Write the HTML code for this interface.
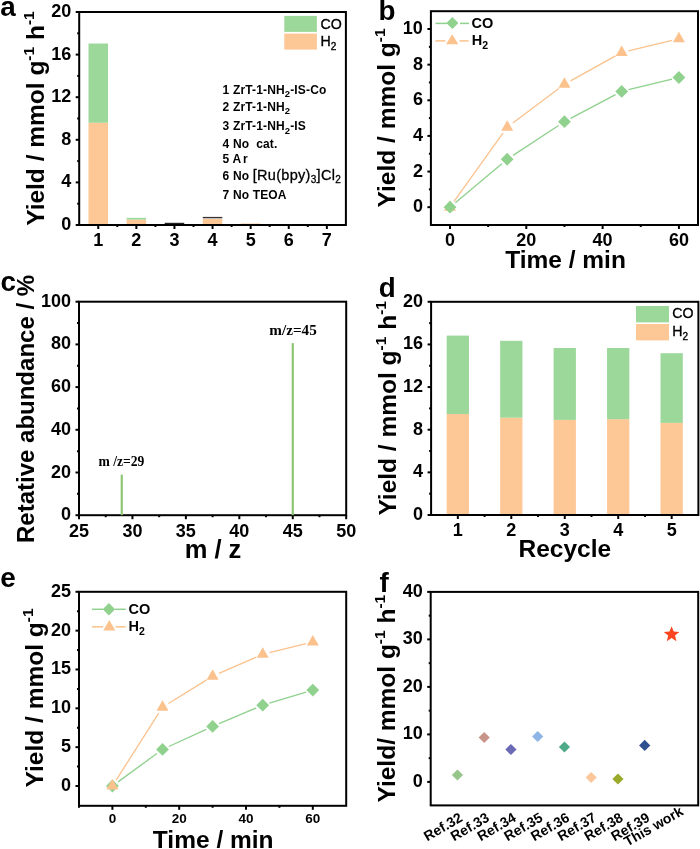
<!DOCTYPE html>
<html><head><meta charset="utf-8"><style>
html,body{margin:0;padding:0;background:#fff;}
svg{display:block;will-change:transform;}
</style></head><body>
<svg width="700" height="849" viewBox="0 0 700 849">
<rect width="700" height="849" fill="#fff"/>
<rect x="88.50" y="122.76" width="19.50" height="102.24" fill="#fdc796"/>
<rect x="88.50" y="43.52" width="19.50" height="79.24" fill="#9dd89b"/>
<rect x="126.60" y="219.57" width="19.50" height="5.43" fill="#fdc796"/>
<rect x="126.60" y="217.86" width="19.50" height="1.70" fill="#9dd89b"/>
<rect x="202.80" y="219.04" width="19.50" height="5.96" fill="#fdc796"/>
<rect x="240.90" y="223.51" width="19.50" height="1.49" fill="#fdc796"/>
<rect x="164.70" y="222.80" width="19.50" height="1.40" fill="#222"/>
<rect x="202.80" y="216.90" width="19.50" height="1.40" fill="#3a3030"/>
<rect x="79.20" y="12.00" width="266.70" height="213.00" fill="none" stroke="#000" stroke-width="2"/>
<line x1="75.70" y1="225.00" x2="79.20" y2="225.00" stroke="#000" stroke-width="2" />
<text x="71.20" y="230.00" font-family="'Liberation Sans',sans-serif" font-size="18" font-weight="bold" text-anchor="end" >0</text>
<line x1="75.70" y1="182.40" x2="79.20" y2="182.40" stroke="#000" stroke-width="2" />
<text x="71.20" y="187.40" font-family="'Liberation Sans',sans-serif" font-size="18" font-weight="bold" text-anchor="end" >4</text>
<line x1="75.70" y1="139.80" x2="79.20" y2="139.80" stroke="#000" stroke-width="2" />
<text x="71.20" y="144.80" font-family="'Liberation Sans',sans-serif" font-size="18" font-weight="bold" text-anchor="end" >8</text>
<line x1="75.70" y1="97.20" x2="79.20" y2="97.20" stroke="#000" stroke-width="2" />
<text x="71.20" y="102.20" font-family="'Liberation Sans',sans-serif" font-size="18" font-weight="bold" text-anchor="end" >12</text>
<line x1="75.70" y1="54.60" x2="79.20" y2="54.60" stroke="#000" stroke-width="2" />
<text x="71.20" y="59.60" font-family="'Liberation Sans',sans-serif" font-size="18" font-weight="bold" text-anchor="end" >16</text>
<line x1="75.70" y1="12.00" x2="79.20" y2="12.00" stroke="#000" stroke-width="2" />
<text x="71.20" y="17.00" font-family="'Liberation Sans',sans-serif" font-size="18" font-weight="bold" text-anchor="end" >20</text>
<line x1="77.20" y1="203.70" x2="79.20" y2="203.70" stroke="#000" stroke-width="2" />
<line x1="77.20" y1="161.10" x2="79.20" y2="161.10" stroke="#000" stroke-width="2" />
<line x1="77.20" y1="118.50" x2="79.20" y2="118.50" stroke="#000" stroke-width="2" />
<line x1="77.20" y1="75.90" x2="79.20" y2="75.90" stroke="#000" stroke-width="2" />
<line x1="77.20" y1="33.30" x2="79.20" y2="33.30" stroke="#000" stroke-width="2" />
<line x1="98.25" y1="225.00" x2="98.25" y2="229.00" stroke="#000" stroke-width="2" />
<text x="98.25" y="245.80" font-family="'Liberation Sans',sans-serif" font-size="18" font-weight="bold" text-anchor="middle" >1</text>
<line x1="136.35" y1="225.00" x2="136.35" y2="229.00" stroke="#000" stroke-width="2" />
<text x="136.35" y="245.80" font-family="'Liberation Sans',sans-serif" font-size="18" font-weight="bold" text-anchor="middle" >2</text>
<line x1="174.45" y1="225.00" x2="174.45" y2="229.00" stroke="#000" stroke-width="2" />
<text x="174.45" y="245.80" font-family="'Liberation Sans',sans-serif" font-size="18" font-weight="bold" text-anchor="middle" >3</text>
<line x1="212.55" y1="225.00" x2="212.55" y2="229.00" stroke="#000" stroke-width="2" />
<text x="212.55" y="245.80" font-family="'Liberation Sans',sans-serif" font-size="18" font-weight="bold" text-anchor="middle" >4</text>
<line x1="250.65" y1="225.00" x2="250.65" y2="229.00" stroke="#000" stroke-width="2" />
<text x="250.65" y="245.80" font-family="'Liberation Sans',sans-serif" font-size="18" font-weight="bold" text-anchor="middle" >5</text>
<line x1="288.75" y1="225.00" x2="288.75" y2="229.00" stroke="#000" stroke-width="2" />
<text x="288.75" y="245.80" font-family="'Liberation Sans',sans-serif" font-size="18" font-weight="bold" text-anchor="middle" >6</text>
<line x1="326.85" y1="225.00" x2="326.85" y2="229.00" stroke="#000" stroke-width="2" />
<text x="326.85" y="245.80" font-family="'Liberation Sans',sans-serif" font-size="18" font-weight="bold" text-anchor="middle" >7</text>
<line x1="117.30" y1="225.00" x2="117.30" y2="227.00" stroke="#000" stroke-width="2" />
<line x1="155.40" y1="225.00" x2="155.40" y2="227.00" stroke="#000" stroke-width="2" />
<line x1="193.50" y1="225.00" x2="193.50" y2="227.00" stroke="#000" stroke-width="2" />
<line x1="231.60" y1="225.00" x2="231.60" y2="227.00" stroke="#000" stroke-width="2" />
<line x1="269.70" y1="225.00" x2="269.70" y2="227.00" stroke="#000" stroke-width="2" />
<line x1="307.80" y1="225.00" x2="307.80" y2="227.00" stroke="#000" stroke-width="2" />
<rect x="284.30" y="15.90" width="32.60" height="16.00" fill="#9dd89b"/>
<rect x="284.30" y="33.60" width="32.60" height="16.00" fill="#fdc796"/>
<text x="320.60" y="28.90" font-family="'Liberation Sans',sans-serif" font-size="14.2" font-weight="normal" text-anchor="start" stroke="#000" stroke-width="0.35">CO</text>
<text x="320.6" y="46" font-family="'Liberation Sans',sans-serif" font-size="14.2" stroke="#000" stroke-width="0.35">H<tspan font-size="10" dy="3.5">2</tspan></text>
<text x="222.6" y="93.9" font-family="'Liberation Sans',sans-serif" font-size="12" font-weight="bold" letter-spacing="0.15" xml:space="preserve">1 ZrT-1-NH<tspan font-size="9.5" dy="3.5">2</tspan><tspan dy='-3.5'>-IS-Co</tspan></text>
<text x="222.6" y="110.9" font-family="'Liberation Sans',sans-serif" font-size="12" font-weight="bold" letter-spacing="0.15" xml:space="preserve">2 ZrT-1-NH<tspan font-size="9.5" dy="3.5">2</tspan></text>
<text x="222.6" y="130.2" font-family="'Liberation Sans',sans-serif" font-size="12" font-weight="bold" letter-spacing="0.15" xml:space="preserve">3 ZrT-1-NH<tspan font-size="9.5" dy="3.5">2</tspan><tspan dy='-3.5'>-IS</tspan></text>
<text x="222.6" y="148.1" font-family="'Liberation Sans',sans-serif" font-size="12" font-weight="bold" letter-spacing="0.15" xml:space="preserve">4 No  cat.</text>
<text x="222.6" y="162.7" font-family="'Liberation Sans',sans-serif" font-size="12" font-weight="bold" letter-spacing="0.15" xml:space="preserve">5 A<tspan dx='1.6'>r</tspan></text>
<text x="222.6" y="179.7" font-family="'Liberation Sans',sans-serif" font-size="12" font-weight="bold" letter-spacing="0.15" xml:space="preserve">6 No <tspan font-weight='normal' font-size='14.5' letter-spacing='0.3' stroke='#000' stroke-width='0.3'>[Ru(bpy)<tspan font-size='10' dy='3.5'>3</tspan><tspan dy='-3.5'>]Cl</tspan><tspan font-size='10' dy='3.5'>2</tspan></tspan></text>
<text x="222.6" y="199.3" font-family="'Liberation Sans',sans-serif" font-size="12" font-weight="bold" letter-spacing="0.15" xml:space="preserve">7 No TEOA</text>
<text transform="translate(43.80,225.80) rotate(-90)" font-family="'Liberation Sans',sans-serif" font-size="24.5" font-weight="bold" text-anchor="start"><tspan dy="0">Yield / mmol g</tspan><tspan font-size="15.5" dy="-10">-1</tspan><tspan dy="10"> h</tspan><tspan font-size="15.5" dy="-10">-1</tspan></text>
<text x="0.30" y="15.80" font-family="'Liberation Sans',sans-serif" font-size="27.8" font-weight="bold" text-anchor="start" >a</text>
<rect x="430.90" y="11.20" width="267.10" height="213.80" fill="none" stroke="#000" stroke-width="2"/>
<line x1="427.40" y1="207.18" x2="430.90" y2="207.18" stroke="#000" stroke-width="2" />
<text x="422.90" y="212.18" font-family="'Liberation Sans',sans-serif" font-size="18" font-weight="bold" text-anchor="end" >0</text>
<line x1="427.40" y1="171.55" x2="430.90" y2="171.55" stroke="#000" stroke-width="2" />
<text x="422.90" y="176.55" font-family="'Liberation Sans',sans-serif" font-size="18" font-weight="bold" text-anchor="end" >2</text>
<line x1="427.40" y1="135.92" x2="430.90" y2="135.92" stroke="#000" stroke-width="2" />
<text x="422.90" y="140.92" font-family="'Liberation Sans',sans-serif" font-size="18" font-weight="bold" text-anchor="end" >4</text>
<line x1="427.40" y1="100.28" x2="430.90" y2="100.28" stroke="#000" stroke-width="2" />
<text x="422.90" y="105.28" font-family="'Liberation Sans',sans-serif" font-size="18" font-weight="bold" text-anchor="end" >6</text>
<line x1="427.40" y1="64.65" x2="430.90" y2="64.65" stroke="#000" stroke-width="2" />
<text x="422.90" y="69.65" font-family="'Liberation Sans',sans-serif" font-size="18" font-weight="bold" text-anchor="end" >8</text>
<line x1="427.40" y1="29.02" x2="430.90" y2="29.02" stroke="#000" stroke-width="2" />
<text x="422.90" y="34.02" font-family="'Liberation Sans',sans-serif" font-size="18" font-weight="bold" text-anchor="end" >10</text>
<line x1="428.90" y1="189.37" x2="430.90" y2="189.37" stroke="#000" stroke-width="2" />
<line x1="428.90" y1="153.73" x2="430.90" y2="153.73" stroke="#000" stroke-width="2" />
<line x1="428.90" y1="118.10" x2="430.90" y2="118.10" stroke="#000" stroke-width="2" />
<line x1="428.90" y1="82.47" x2="430.90" y2="82.47" stroke="#000" stroke-width="2" />
<line x1="428.90" y1="46.83" x2="430.90" y2="46.83" stroke="#000" stroke-width="2" />
<line x1="449.98" y1="225.00" x2="449.98" y2="229.00" stroke="#000" stroke-width="2" />
<text x="449.98" y="245.80" font-family="'Liberation Sans',sans-serif" font-size="18" font-weight="bold" text-anchor="middle" >0</text>
<line x1="526.29" y1="225.00" x2="526.29" y2="229.00" stroke="#000" stroke-width="2" />
<text x="526.29" y="245.80" font-family="'Liberation Sans',sans-serif" font-size="18" font-weight="bold" text-anchor="middle" >20</text>
<line x1="602.61" y1="225.00" x2="602.61" y2="229.00" stroke="#000" stroke-width="2" />
<text x="602.61" y="245.80" font-family="'Liberation Sans',sans-serif" font-size="18" font-weight="bold" text-anchor="middle" >40</text>
<line x1="678.92" y1="225.00" x2="678.92" y2="229.00" stroke="#000" stroke-width="2" />
<text x="678.92" y="245.80" font-family="'Liberation Sans',sans-serif" font-size="18" font-weight="bold" text-anchor="middle" >60</text>
<line x1="488.14" y1="225.00" x2="488.14" y2="227.00" stroke="#000" stroke-width="2" />
<line x1="564.45" y1="225.00" x2="564.45" y2="227.00" stroke="#000" stroke-width="2" />
<line x1="640.76" y1="225.00" x2="640.76" y2="227.00" stroke="#000" stroke-width="2" />
<line x1="454.05" y1="201.49" x2="503.14" y2="132.88" stroke="#fbc28d" stroke-width="1.3" />
<line x1="512.81" y1="122.99" x2="558.85" y2="88.45" stroke="#fbc28d" stroke-width="1.3" />
<line x1="570.57" y1="80.86" x2="615.56" y2="55.93" stroke="#fbc28d" stroke-width="1.3" />
<line x1="628.49" y1="50.88" x2="672.12" y2="40.29" stroke="#fbc28d" stroke-width="1.3" />
<line x1="455.35" y1="202.69" x2="501.85" y2="163.75" stroke="#8fd18d" stroke-width="1.3" />
<line x1="513.07" y1="155.41" x2="558.60" y2="125.51" stroke="#8fd18d" stroke-width="1.3" />
<line x1="570.64" y1="118.39" x2="615.50" y2="94.65" stroke="#8fd18d" stroke-width="1.3" />
<line x1="628.49" y1="89.72" x2="672.12" y2="79.13" stroke="#8fd18d" stroke-width="1.3" />
<path d="M449.98,200.18 L455.98,210.68 L443.98,210.68 Z" fill="#fbc28d"/>
<path d="M507.21,120.19 L513.21,130.69 L501.21,130.69 Z" fill="#fbc28d"/>
<path d="M564.45,77.25 L570.45,87.75 L558.45,87.75 Z" fill="#fbc28d"/>
<path d="M621.69,45.53 L627.69,56.03 L615.69,56.03 Z" fill="#fbc28d"/>
<path d="M678.92,31.64 L684.92,42.14 L672.92,42.14 Z" fill="#fbc28d"/>
<path d="M449.98,200.78 L456.38,207.18 L449.98,213.58 L443.58,207.18 Z" fill="#8fd18d"/>
<path d="M507.21,152.86 L513.61,159.26 L507.21,165.66 L500.81,159.26 Z" fill="#8fd18d"/>
<path d="M564.45,115.26 L570.85,121.66 L564.45,128.06 L558.05,121.66 Z" fill="#8fd18d"/>
<path d="M621.69,84.97 L628.09,91.38 L621.69,97.78 L615.29,91.38 Z" fill="#8fd18d"/>
<path d="M678.92,71.08 L685.32,77.48 L678.92,83.88 L672.52,77.48 Z" fill="#8fd18d"/>
<line x1="435.50" y1="23.40" x2="447.00" y2="23.40" stroke="#8fd18d" stroke-width="1.5" />
<line x1="460.00" y1="23.40" x2="469.00" y2="23.40" stroke="#8fd18d" stroke-width="1.5" />
<path d="M452.40,17.00 L458.40,23.00 L452.40,29.00 L446.40,23.00 Z" fill="#8fd18d"/>
<line x1="435.50" y1="40.90" x2="445.40" y2="40.90" stroke="#fbc28d" stroke-width="1.5" />
<line x1="459.50" y1="40.90" x2="468.60" y2="40.90" stroke="#fbc28d" stroke-width="1.5" />
<path d="M452.20,34.33 L458.35,44.33 L446.05,44.33 Z" fill="#fbc28d"/>
<text x="471.60" y="28.20" font-family="'Liberation Sans',sans-serif" font-size="14.5" font-weight="bold" text-anchor="start" textLength="21.8" lengthAdjust="spacingAndGlyphs">CO</text>
<text x="471.8" y="44.8" font-family="'Liberation Sans',sans-serif" font-size="14.5" font-weight="bold">H<tspan font-size="10.5" dy="4">2</tspan></text>
<text transform="translate(394.70,207.40) rotate(-90)" font-family="'Liberation Sans',sans-serif" font-size="24.5" font-weight="bold" text-anchor="start"><tspan dy="0">Yield / mmol g</tspan><tspan font-size="15.5" dy="-10">-1</tspan></text>
<text x="565.50" y="267.60" font-family="'Liberation Sans',sans-serif" font-size="24.5" font-weight="bold" text-anchor="middle" >Time / min</text>
<text x="378.60" y="20.40" font-family="'Liberation Sans',sans-serif" font-size="27.8" font-weight="bold" text-anchor="start" >b</text>
<rect x="79.00" y="301.70" width="267.20" height="213.50" fill="none" stroke="#000" stroke-width="2"/>
<line x1="75.50" y1="515.20" x2="79.00" y2="515.20" stroke="#000" stroke-width="2" />
<text x="71.00" y="520.20" font-family="'Liberation Sans',sans-serif" font-size="18" font-weight="bold" text-anchor="end" >0</text>
<line x1="75.50" y1="472.50" x2="79.00" y2="472.50" stroke="#000" stroke-width="2" />
<text x="71.00" y="477.50" font-family="'Liberation Sans',sans-serif" font-size="18" font-weight="bold" text-anchor="end" >20</text>
<line x1="75.50" y1="429.80" x2="79.00" y2="429.80" stroke="#000" stroke-width="2" />
<text x="71.00" y="434.80" font-family="'Liberation Sans',sans-serif" font-size="18" font-weight="bold" text-anchor="end" >40</text>
<line x1="75.50" y1="387.10" x2="79.00" y2="387.10" stroke="#000" stroke-width="2" />
<text x="71.00" y="392.10" font-family="'Liberation Sans',sans-serif" font-size="18" font-weight="bold" text-anchor="end" >60</text>
<line x1="75.50" y1="344.40" x2="79.00" y2="344.40" stroke="#000" stroke-width="2" />
<text x="71.00" y="349.40" font-family="'Liberation Sans',sans-serif" font-size="18" font-weight="bold" text-anchor="end" >80</text>
<line x1="75.50" y1="301.70" x2="79.00" y2="301.70" stroke="#000" stroke-width="2" />
<text x="71.00" y="306.70" font-family="'Liberation Sans',sans-serif" font-size="18" font-weight="bold" text-anchor="end" >100</text>
<line x1="77.00" y1="493.85" x2="79.00" y2="493.85" stroke="#000" stroke-width="2" />
<line x1="77.00" y1="451.15" x2="79.00" y2="451.15" stroke="#000" stroke-width="2" />
<line x1="77.00" y1="408.45" x2="79.00" y2="408.45" stroke="#000" stroke-width="2" />
<line x1="77.00" y1="365.75" x2="79.00" y2="365.75" stroke="#000" stroke-width="2" />
<line x1="77.00" y1="323.05" x2="79.00" y2="323.05" stroke="#000" stroke-width="2" />
<line x1="79.00" y1="515.20" x2="79.00" y2="519.20" stroke="#000" stroke-width="2" />
<text x="79.00" y="536.60" font-family="'Liberation Sans',sans-serif" font-size="18" font-weight="bold" text-anchor="middle" >25</text>
<line x1="132.44" y1="515.20" x2="132.44" y2="519.20" stroke="#000" stroke-width="2" />
<text x="132.44" y="536.60" font-family="'Liberation Sans',sans-serif" font-size="18" font-weight="bold" text-anchor="middle" >30</text>
<line x1="185.88" y1="515.20" x2="185.88" y2="519.20" stroke="#000" stroke-width="2" />
<text x="185.88" y="536.60" font-family="'Liberation Sans',sans-serif" font-size="18" font-weight="bold" text-anchor="middle" >35</text>
<line x1="239.32" y1="515.20" x2="239.32" y2="519.20" stroke="#000" stroke-width="2" />
<text x="239.32" y="536.60" font-family="'Liberation Sans',sans-serif" font-size="18" font-weight="bold" text-anchor="middle" >40</text>
<line x1="292.76" y1="515.20" x2="292.76" y2="519.20" stroke="#000" stroke-width="2" />
<text x="292.76" y="536.60" font-family="'Liberation Sans',sans-serif" font-size="18" font-weight="bold" text-anchor="middle" >45</text>
<line x1="346.20" y1="515.20" x2="346.20" y2="519.20" stroke="#000" stroke-width="2" />
<text x="346.20" y="536.60" font-family="'Liberation Sans',sans-serif" font-size="18" font-weight="bold" text-anchor="middle" >50</text>
<line x1="105.72" y1="515.20" x2="105.72" y2="517.20" stroke="#000" stroke-width="2" />
<line x1="159.16" y1="515.20" x2="159.16" y2="517.20" stroke="#000" stroke-width="2" />
<line x1="212.60" y1="515.20" x2="212.60" y2="517.20" stroke="#000" stroke-width="2" />
<line x1="266.04" y1="515.20" x2="266.04" y2="517.20" stroke="#000" stroke-width="2" />
<line x1="319.48" y1="515.20" x2="319.48" y2="517.20" stroke="#000" stroke-width="2" />
<line x1="121.75" y1="515.20" x2="121.75" y2="474.64" stroke="#8dc572" stroke-width="2.2" />
<line x1="292.76" y1="515.20" x2="292.76" y2="343.12" stroke="#8dc572" stroke-width="2.2" />
<text x="121.40" y="466.30" font-family="'Liberation Serif',serif" font-size="13.6" font-weight="bold" text-anchor="middle" >m /z=29</text>
<text x="293.00" y="334.60" font-family="'Liberation Serif',serif" font-size="15.2" font-weight="bold" text-anchor="middle" >m/z=45</text>
<text transform="translate(33.60,543.00) rotate(-90)" font-family="'Liberation Sans',sans-serif" font-size="24" font-weight="bold" text-anchor="start"><tspan dy="0">Retative abundance / %</tspan></text>
<text x="213.00" y="558.20" font-family="'Liberation Sans',sans-serif" font-size="25.5" font-weight="bold" text-anchor="middle" >m / z</text>
<text x="0.40" y="291.40" font-family="'Liberation Sans',sans-serif" font-size="27.8" font-weight="bold" text-anchor="start" >c</text>
<rect x="446.68" y="414.05" width="22.30" height="100.95" fill="#fdc796"/>
<rect x="446.68" y="335.59" width="22.30" height="78.46" fill="#9dd89b"/>
<rect x="500.14" y="417.67" width="22.30" height="97.33" fill="#fdc796"/>
<rect x="500.14" y="340.82" width="22.30" height="76.86" fill="#9dd89b"/>
<rect x="553.60" y="419.91" width="22.30" height="95.09" fill="#fdc796"/>
<rect x="553.60" y="347.96" width="22.30" height="71.95" fill="#9dd89b"/>
<rect x="607.06" y="419.17" width="22.30" height="95.83" fill="#fdc796"/>
<rect x="607.06" y="347.96" width="22.30" height="71.21" fill="#9dd89b"/>
<rect x="660.52" y="422.90" width="22.30" height="92.10" fill="#fdc796"/>
<rect x="660.52" y="353.18" width="22.30" height="69.72" fill="#9dd89b"/>
<rect x="431.10" y="301.80" width="267.30" height="213.20" fill="none" stroke="#000" stroke-width="2"/>
<line x1="427.60" y1="515.00" x2="431.10" y2="515.00" stroke="#000" stroke-width="2" />
<text x="423.10" y="520.00" font-family="'Liberation Sans',sans-serif" font-size="18" font-weight="bold" text-anchor="end" >0</text>
<line x1="427.60" y1="472.36" x2="431.10" y2="472.36" stroke="#000" stroke-width="2" />
<text x="423.10" y="477.36" font-family="'Liberation Sans',sans-serif" font-size="18" font-weight="bold" text-anchor="end" >4</text>
<line x1="427.60" y1="429.72" x2="431.10" y2="429.72" stroke="#000" stroke-width="2" />
<text x="423.10" y="434.72" font-family="'Liberation Sans',sans-serif" font-size="18" font-weight="bold" text-anchor="end" >8</text>
<line x1="427.60" y1="387.08" x2="431.10" y2="387.08" stroke="#000" stroke-width="2" />
<text x="423.10" y="392.08" font-family="'Liberation Sans',sans-serif" font-size="18" font-weight="bold" text-anchor="end" >12</text>
<line x1="427.60" y1="344.44" x2="431.10" y2="344.44" stroke="#000" stroke-width="2" />
<text x="423.10" y="349.44" font-family="'Liberation Sans',sans-serif" font-size="18" font-weight="bold" text-anchor="end" >16</text>
<line x1="427.60" y1="301.80" x2="431.10" y2="301.80" stroke="#000" stroke-width="2" />
<text x="423.10" y="306.80" font-family="'Liberation Sans',sans-serif" font-size="18" font-weight="bold" text-anchor="end" >20</text>
<line x1="429.10" y1="493.68" x2="431.10" y2="493.68" stroke="#000" stroke-width="2" />
<line x1="429.10" y1="451.04" x2="431.10" y2="451.04" stroke="#000" stroke-width="2" />
<line x1="429.10" y1="408.40" x2="431.10" y2="408.40" stroke="#000" stroke-width="2" />
<line x1="429.10" y1="365.76" x2="431.10" y2="365.76" stroke="#000" stroke-width="2" />
<line x1="429.10" y1="323.12" x2="431.10" y2="323.12" stroke="#000" stroke-width="2" />
<line x1="457.83" y1="515.00" x2="457.83" y2="519.00" stroke="#000" stroke-width="2" />
<text x="457.83" y="536.40" font-family="'Liberation Sans',sans-serif" font-size="18" font-weight="bold" text-anchor="middle" >1</text>
<line x1="511.29" y1="515.00" x2="511.29" y2="519.00" stroke="#000" stroke-width="2" />
<text x="511.29" y="536.40" font-family="'Liberation Sans',sans-serif" font-size="18" font-weight="bold" text-anchor="middle" >2</text>
<line x1="564.75" y1="515.00" x2="564.75" y2="519.00" stroke="#000" stroke-width="2" />
<text x="564.75" y="536.40" font-family="'Liberation Sans',sans-serif" font-size="18" font-weight="bold" text-anchor="middle" >3</text>
<line x1="618.21" y1="515.00" x2="618.21" y2="519.00" stroke="#000" stroke-width="2" />
<text x="618.21" y="536.40" font-family="'Liberation Sans',sans-serif" font-size="18" font-weight="bold" text-anchor="middle" >4</text>
<line x1="671.67" y1="515.00" x2="671.67" y2="519.00" stroke="#000" stroke-width="2" />
<text x="671.67" y="536.40" font-family="'Liberation Sans',sans-serif" font-size="18" font-weight="bold" text-anchor="middle" >5</text>
<line x1="484.56" y1="515.00" x2="484.56" y2="517.00" stroke="#000" stroke-width="2" />
<line x1="538.02" y1="515.00" x2="538.02" y2="517.00" stroke="#000" stroke-width="2" />
<line x1="591.48" y1="515.00" x2="591.48" y2="517.00" stroke="#000" stroke-width="2" />
<line x1="644.94" y1="515.00" x2="644.94" y2="517.00" stroke="#000" stroke-width="2" />
<rect x="636.00" y="306.00" width="33.00" height="16.40" fill="#9dd89b"/>
<rect x="636.00" y="324.00" width="33.00" height="16.40" fill="#fdc796"/>
<text x="672.30" y="318.30" font-family="'Liberation Sans',sans-serif" font-size="14.2" font-weight="normal" text-anchor="start" stroke="#000" stroke-width="0.35">CO</text>
<text x="672.3" y="336" font-family="'Liberation Sans',sans-serif" font-size="14.2" stroke="#000" stroke-width="0.35">H<tspan font-size="10" dy="4">2</tspan></text>
<text transform="translate(395.90,515.60) rotate(-90)" font-family="'Liberation Sans',sans-serif" font-size="24.5" font-weight="bold" text-anchor="start"><tspan dy="0">Yield / mmol g</tspan><tspan font-size="15.5" dy="-10">-1</tspan><tspan dy="10"> h</tspan><tspan font-size="15.5" dy="-10">-1</tspan></text>
<text x="564.80" y="556.80" font-family="'Liberation Sans',sans-serif" font-size="24.5" font-weight="bold" text-anchor="middle" >Recycle</text>
<text x="378.80" y="296.60" font-family="'Liberation Sans',sans-serif" font-size="27.8" font-weight="bold" text-anchor="start" >d</text>
<rect x="79.00" y="591.80" width="267.20" height="214.00" fill="none" stroke="#000" stroke-width="2"/>
<line x1="75.50" y1="786.00" x2="79.00" y2="786.00" stroke="#000" stroke-width="2" />
<text x="71.00" y="791.00" font-family="'Liberation Sans',sans-serif" font-size="18" font-weight="bold" text-anchor="end" >0</text>
<line x1="75.50" y1="747.16" x2="79.00" y2="747.16" stroke="#000" stroke-width="2" />
<text x="71.00" y="752.16" font-family="'Liberation Sans',sans-serif" font-size="18" font-weight="bold" text-anchor="end" >5</text>
<line x1="75.50" y1="708.32" x2="79.00" y2="708.32" stroke="#000" stroke-width="2" />
<text x="71.00" y="713.32" font-family="'Liberation Sans',sans-serif" font-size="18" font-weight="bold" text-anchor="end" >10</text>
<line x1="75.50" y1="669.48" x2="79.00" y2="669.48" stroke="#000" stroke-width="2" />
<text x="71.00" y="674.48" font-family="'Liberation Sans',sans-serif" font-size="18" font-weight="bold" text-anchor="end" >15</text>
<line x1="75.50" y1="630.64" x2="79.00" y2="630.64" stroke="#000" stroke-width="2" />
<text x="71.00" y="635.64" font-family="'Liberation Sans',sans-serif" font-size="18" font-weight="bold" text-anchor="end" >20</text>
<line x1="75.50" y1="591.80" x2="79.00" y2="591.80" stroke="#000" stroke-width="2" />
<text x="71.00" y="596.80" font-family="'Liberation Sans',sans-serif" font-size="18" font-weight="bold" text-anchor="end" >25</text>
<line x1="77.00" y1="766.58" x2="79.00" y2="766.58" stroke="#000" stroke-width="2" />
<line x1="77.00" y1="727.74" x2="79.00" y2="727.74" stroke="#000" stroke-width="2" />
<line x1="77.00" y1="688.90" x2="79.00" y2="688.90" stroke="#000" stroke-width="2" />
<line x1="77.00" y1="650.06" x2="79.00" y2="650.06" stroke="#000" stroke-width="2" />
<line x1="77.00" y1="611.22" x2="79.00" y2="611.22" stroke="#000" stroke-width="2" />
<line x1="112.40" y1="805.80" x2="112.40" y2="809.80" stroke="#000" stroke-width="2" />
<text x="112.40" y="823.30" font-family="'Liberation Sans',sans-serif" font-size="13.5" font-weight="bold" text-anchor="middle" >0</text>
<line x1="179.20" y1="805.80" x2="179.20" y2="809.80" stroke="#000" stroke-width="2" />
<text x="179.20" y="823.30" font-family="'Liberation Sans',sans-serif" font-size="13.5" font-weight="bold" text-anchor="middle" >20</text>
<line x1="246.00" y1="805.80" x2="246.00" y2="809.80" stroke="#000" stroke-width="2" />
<text x="246.00" y="823.30" font-family="'Liberation Sans',sans-serif" font-size="13.5" font-weight="bold" text-anchor="middle" >40</text>
<line x1="312.80" y1="805.80" x2="312.80" y2="809.80" stroke="#000" stroke-width="2" />
<text x="312.80" y="823.30" font-family="'Liberation Sans',sans-serif" font-size="13.5" font-weight="bold" text-anchor="middle" >60</text>
<line x1="79.00" y1="805.80" x2="79.00" y2="807.80" stroke="#000" stroke-width="2" />
<line x1="145.80" y1="805.80" x2="145.80" y2="807.80" stroke="#000" stroke-width="2" />
<line x1="212.60" y1="805.80" x2="212.60" y2="807.80" stroke="#000" stroke-width="2" />
<line x1="279.40" y1="805.80" x2="279.40" y2="807.80" stroke="#000" stroke-width="2" />
<line x1="118.05" y1="781.87" x2="156.85" y2="753.54" stroke="#8fd18d" stroke-width="1.3" />
<line x1="168.86" y1="746.49" x2="206.24" y2="729.34" stroke="#8fd18d" stroke-width="1.3" />
<line x1="219.05" y1="723.69" x2="256.25" y2="707.94" stroke="#8fd18d" stroke-width="1.3" />
<line x1="269.40" y1="703.19" x2="306.10" y2="692.09" stroke="#8fd18d" stroke-width="1.3" />
<line x1="116.15" y1="780.09" x2="158.75" y2="713.06" stroke="#fbc28d" stroke-width="1.3" />
<line x1="168.46" y1="703.48" x2="206.64" y2="679.91" stroke="#fbc28d" stroke-width="1.3" />
<line x1="219.01" y1="673.43" x2="256.29" y2="657.14" stroke="#fbc28d" stroke-width="1.3" />
<line x1="269.50" y1="652.66" x2="306.00" y2="643.66" stroke="#fbc28d" stroke-width="1.3" />
<path d="M112.40,779.60 L118.80,786.00 L112.40,792.40 L106.00,786.00 Z" fill="#8fd18d"/>
<path d="M162.50,743.01 L168.90,749.41 L162.50,755.81 L156.10,749.41 Z" fill="#8fd18d"/>
<path d="M212.60,720.02 L219.00,726.42 L212.60,732.82 L206.20,726.42 Z" fill="#8fd18d"/>
<path d="M262.70,698.81 L269.10,705.21 L262.70,711.61 L256.30,705.21 Z" fill="#8fd18d"/>
<path d="M312.80,683.67 L319.20,690.07 L312.80,696.47 L306.40,690.07 Z" fill="#8fd18d"/>
<path d="M112.40,779.00 L118.40,789.50 L106.40,789.50 Z" fill="#fbc28d"/>
<path d="M162.50,700.15 L168.50,710.65 L156.50,710.65 Z" fill="#fbc28d"/>
<path d="M212.60,669.24 L218.60,679.74 L206.60,679.74 Z" fill="#fbc28d"/>
<path d="M262.70,647.33 L268.70,657.83 L256.70,657.83 Z" fill="#fbc28d"/>
<path d="M312.80,634.98 L318.80,645.48 L306.80,645.48 Z" fill="#fbc28d"/>
<line x1="92.00" y1="609.30" x2="103.00" y2="609.30" stroke="#8fd18d" stroke-width="1.5" />
<line x1="115.00" y1="609.30" x2="125.70" y2="609.30" stroke="#8fd18d" stroke-width="1.5" />
<path d="M108.90,603.00 L115.10,609.20 L108.90,615.40 L102.70,609.20 Z" fill="#8fd18d"/>
<line x1="92.00" y1="626.80" x2="103.00" y2="626.80" stroke="#fbc28d" stroke-width="1.5" />
<line x1="115.50" y1="626.80" x2="125.70" y2="626.80" stroke="#fbc28d" stroke-width="1.5" />
<path d="M109.30,619.93 L115.30,630.53 L103.30,630.53 Z" fill="#fbc28d"/>
<text x="128.40" y="613.80" font-family="'Liberation Sans',sans-serif" font-size="14.5" font-weight="bold" text-anchor="start" textLength="21.8" lengthAdjust="spacingAndGlyphs">CO</text>
<text x="128.6" y="630.9" font-family="'Liberation Sans',sans-serif" font-size="14.5" font-weight="bold">H<tspan font-size="10.5" dy="4">2</tspan></text>
<text transform="translate(43.30,787.40) rotate(-90)" font-family="'Liberation Sans',sans-serif" font-size="24.5" font-weight="bold" text-anchor="start"><tspan dy="0">Yield / mmol g</tspan><tspan font-size="15.5" dy="-10">-1</tspan></text>
<text x="213.20" y="847.50" font-family="'Liberation Sans',sans-serif" font-size="24.5" font-weight="bold" text-anchor="middle" >Time / min</text>
<text x="0.30" y="586.80" font-family="'Liberation Sans',sans-serif" font-size="27.8" font-weight="bold" text-anchor="start" >e</text>
<rect x="430.70" y="591.90" width="267.50" height="213.50" fill="none" stroke="#000" stroke-width="2"/>
<line x1="427.20" y1="781.90" x2="430.70" y2="781.90" stroke="#000" stroke-width="2" />
<text x="422.70" y="786.90" font-family="'Liberation Sans',sans-serif" font-size="18" font-weight="bold" text-anchor="end" >0</text>
<line x1="427.20" y1="734.40" x2="430.70" y2="734.40" stroke="#000" stroke-width="2" />
<text x="422.70" y="739.40" font-family="'Liberation Sans',sans-serif" font-size="18" font-weight="bold" text-anchor="end" >10</text>
<line x1="427.20" y1="686.90" x2="430.70" y2="686.90" stroke="#000" stroke-width="2" />
<text x="422.70" y="691.90" font-family="'Liberation Sans',sans-serif" font-size="18" font-weight="bold" text-anchor="end" >20</text>
<line x1="427.20" y1="639.40" x2="430.70" y2="639.40" stroke="#000" stroke-width="2" />
<text x="422.70" y="644.40" font-family="'Liberation Sans',sans-serif" font-size="18" font-weight="bold" text-anchor="end" >30</text>
<line x1="427.20" y1="591.90" x2="430.70" y2="591.90" stroke="#000" stroke-width="2" />
<text x="422.70" y="596.90" font-family="'Liberation Sans',sans-serif" font-size="18" font-weight="bold" text-anchor="end" >40</text>
<line x1="428.70" y1="758.15" x2="430.70" y2="758.15" stroke="#000" stroke-width="2" />
<line x1="428.70" y1="710.65" x2="430.70" y2="710.65" stroke="#000" stroke-width="2" />
<line x1="428.70" y1="663.15" x2="430.70" y2="663.15" stroke="#000" stroke-width="2" />
<line x1="428.70" y1="615.65" x2="430.70" y2="615.65" stroke="#000" stroke-width="2" />
<path d="M457.45,769.41 L463.05,775.01 L457.45,780.61 L451.85,775.01 Z" fill="#96c68a"/>
<path d="M484.20,731.89 L489.80,737.49 L484.20,743.09 L478.60,737.49 Z" fill="#c9958a"/>
<path d="M510.95,743.90 L516.55,749.50 L510.95,755.11 L505.35,749.50 Z" fill="#6b6bb5"/>
<path d="M537.70,730.89 L543.30,736.49 L537.70,742.09 L532.10,736.49 Z" fill="#8db5e5"/>
<path d="M564.45,741.39 L570.05,746.99 L564.45,752.59 L558.85,746.99 Z" fill="#4faa8a"/>
<path d="M591.20,771.88 L596.80,777.48 L591.20,783.08 L585.60,777.48 Z" fill="#fcc79a"/>
<path d="M617.95,773.40 L623.55,779.00 L617.95,784.60 L612.35,779.00 Z" fill="#9aaa2a"/>
<path d="M644.70,739.87 L650.30,745.47 L644.70,751.07 L639.10,745.47 Z" fill="#2e4f8f"/>
<polygon points="671.60,626.30 673.72,631.59 679.40,631.97 675.02,635.61 676.42,641.13 671.60,638.10 666.78,641.13 668.18,635.61 663.80,631.97 669.48,631.59" fill="#fa4520"/>
<text transform="translate(442.95,826.70) rotate(-30)" font-family="'Liberation Sans',sans-serif" font-size="14" font-weight="bold" text-anchor="middle" dy="0.35em">Ref.32</text>
<text transform="translate(469.70,826.70) rotate(-30)" font-family="'Liberation Sans',sans-serif" font-size="14" font-weight="bold" text-anchor="middle" dy="0.35em">Ref.33</text>
<text transform="translate(496.45,826.70) rotate(-30)" font-family="'Liberation Sans',sans-serif" font-size="14" font-weight="bold" text-anchor="middle" dy="0.35em">Ref.34</text>
<text transform="translate(523.20,826.70) rotate(-30)" font-family="'Liberation Sans',sans-serif" font-size="14" font-weight="bold" text-anchor="middle" dy="0.35em">Ref.35</text>
<text transform="translate(549.95,826.70) rotate(-30)" font-family="'Liberation Sans',sans-serif" font-size="14" font-weight="bold" text-anchor="middle" dy="0.35em">Ref.36</text>
<text transform="translate(576.70,826.70) rotate(-30)" font-family="'Liberation Sans',sans-serif" font-size="14" font-weight="bold" text-anchor="middle" dy="0.35em">Ref.37</text>
<text transform="translate(603.45,826.70) rotate(-30)" font-family="'Liberation Sans',sans-serif" font-size="14" font-weight="bold" text-anchor="middle" dy="0.35em">Ref.38</text>
<text transform="translate(630.20,826.70) rotate(-30)" font-family="'Liberation Sans',sans-serif" font-size="14" font-weight="bold" text-anchor="middle" dy="0.35em">Ref.39</text>
<text transform="translate(653.45,826.20) rotate(-30)" font-family="'Liberation Sans',sans-serif" font-size="14" font-weight="bold" text-anchor="middle" dy="0.35em">This work</text>
<text transform="translate(395.00,802.50) rotate(-90)" font-family="'Liberation Sans',sans-serif" font-size="24.5" font-weight="bold" text-anchor="start"><tspan dy="0">Yield/ mmol g</tspan><tspan font-size="15.5" dy="-10">-1</tspan><tspan dy="10"> h</tspan><tspan font-size="15.5" dy="-10">-1</tspan></text>
<text x="379.60" y="592.40" font-family="'Liberation Sans',sans-serif" font-size="27.8" font-weight="bold" text-anchor="start" >f</text>
</svg>
</body></html>
